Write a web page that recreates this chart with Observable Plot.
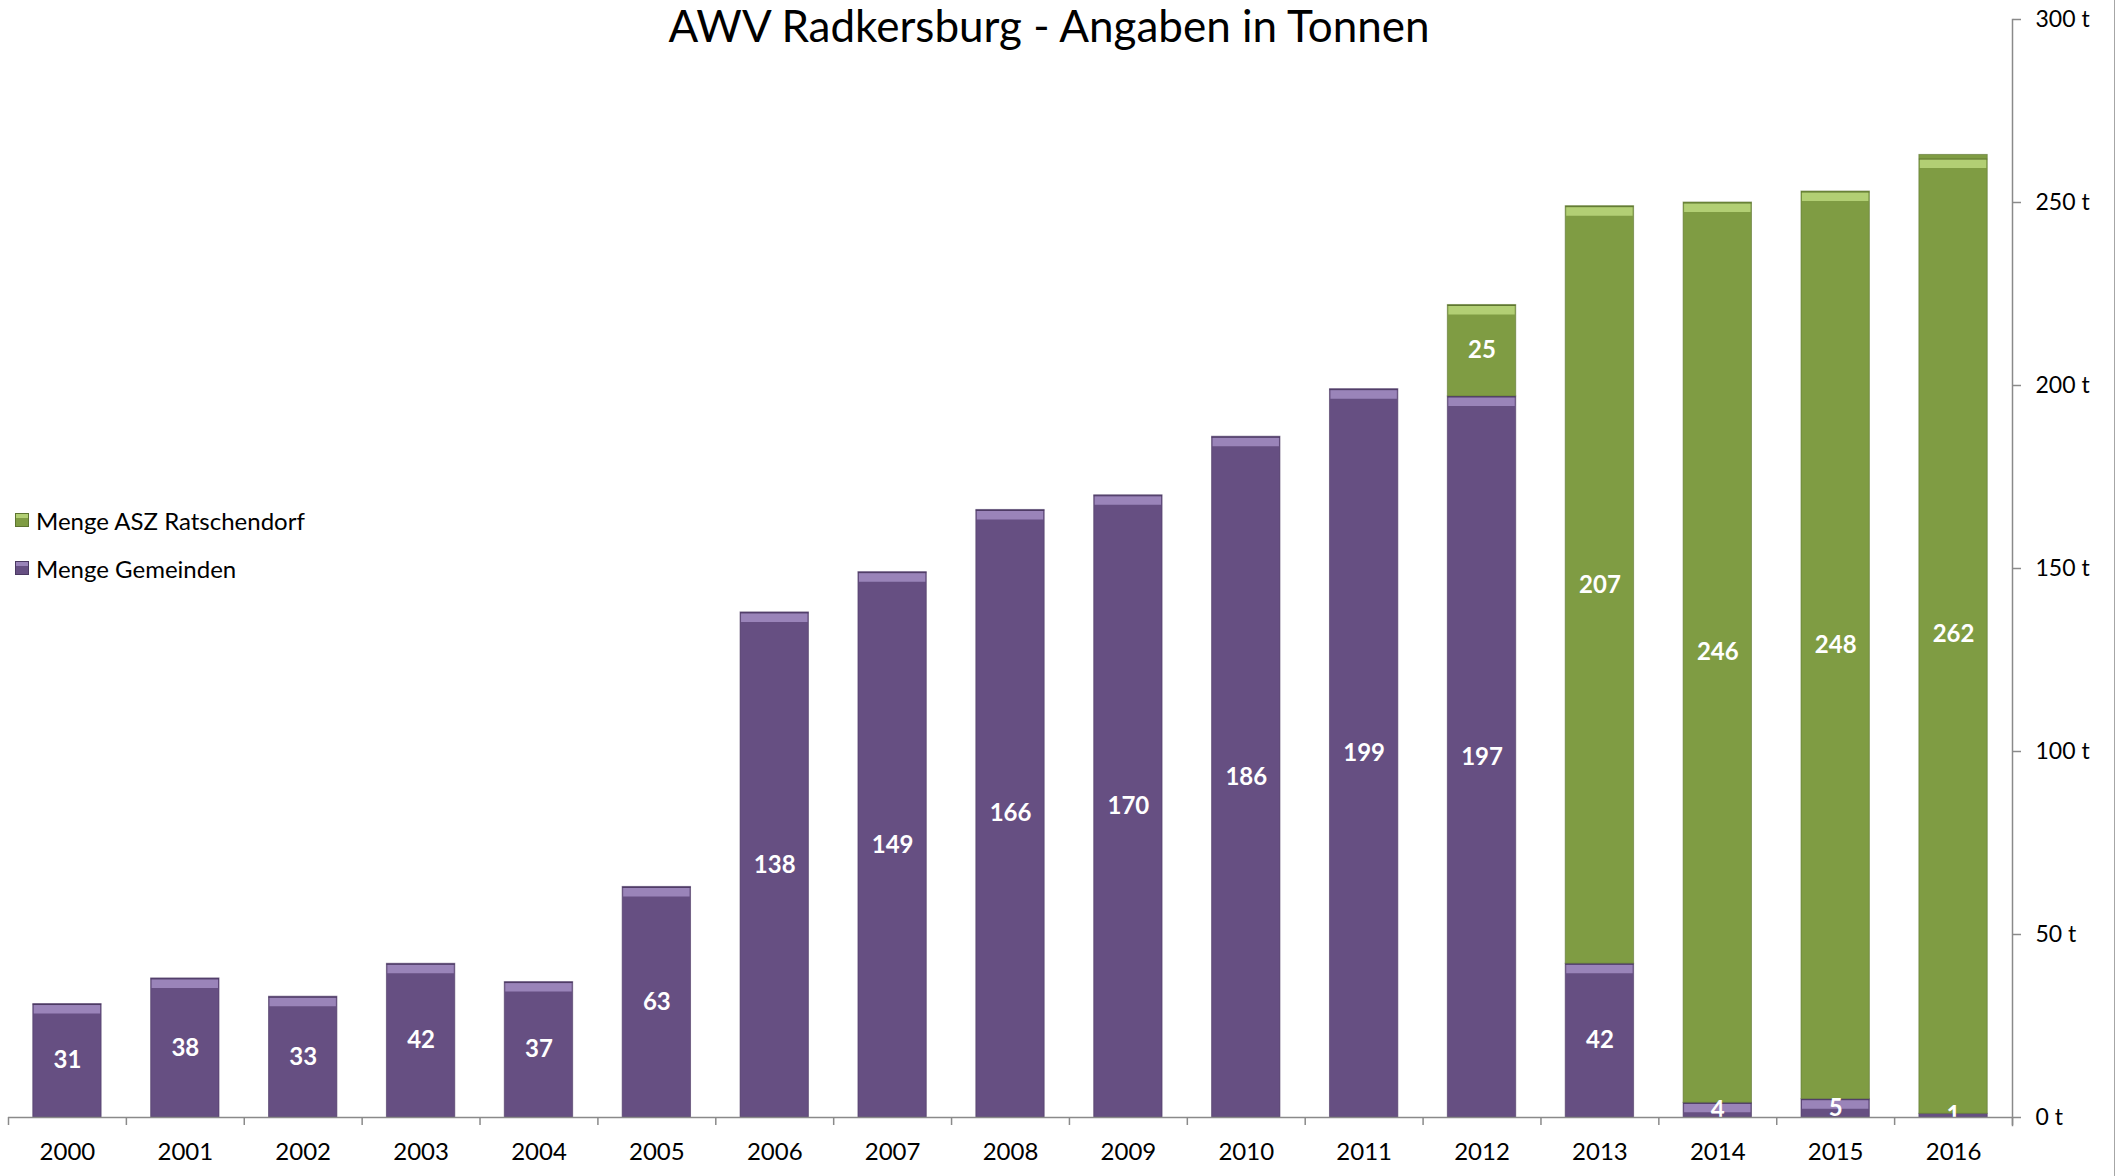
<!DOCTYPE html>
<html>
<head>
<meta charset="utf-8">
<script src="https://cdn.jsdelivr.net/npm/d3@7"></script>
<script src="https://cdn.jsdelivr.net/npm/@observablehq/plot@0.6"></script>
<style>
  html, body { margin: 0; padding: 0; background: #fff; }
  #wrap { position: relative; width: 2117px; height: 1176px; overflow: hidden; font-family: Lato, "Open Sans", sans-serif; }
  #chart { position: absolute; left: 0; top: 0; }
  #title { position: absolute; left: 0; top: 1px; width: 2098px; text-align: center; font-size: 44px; line-height: 48px; color: #000; }
  #legend { position: absolute; left: 15px; top: 496px; font-size: 24px; color: #000; }
  .item { display: flex; align-items: center; height: 48px; }
  .sw { width: 14px; height: 14px; margin-right: 7px; box-sizing: border-box; }
  #edge { position: absolute; left: 2114px; top: 0; width: 1px; height: 1176px; background: #a6a6a6; }
</style>
</head>
<body>
<div id="wrap">
  <div id="chart"></div>
  <div id="title">AWV Radkersburg - Angaben in Tonnen</div>
  <div id="legend"></div>
  <div id="edge"></div>
</div>
<script>
// ---- data ----
const years = ["2000","2001","2002","2003","2004","2005","2006","2007","2008","2009","2010","2011","2012","2013","2014","2015","2016"];
const gemeinden = [31, 38, 33, 42, 37, 63, 138, 149, 166, 170, 186, 199, 197, 42, 4, 5, 1];
const asz = [0, 0, 0, 0, 0, 0, 0, 0, 0, 0, 0, 0, 25, 207, 246, 248, 262];
const seriesNames = ["Menge Gemeinden", "Menge ASZ Ratschendorf"];
const yTicks = [0, 50, 100, 150, 200, 250, 300];

// ---- styles ----
const colors = {"Menge Gemeinden": "#664f82", "Menge ASZ Ratschendorf": "#7f9c43"};
const tops = {"Menge Gemeinden": "#9a84b9", "Menge ASZ Ratschendorf": "#b2cf74"};
const edges = {"Menge Gemeinden": "#4b3962", "Menge ASZ Ratschendorf": "#5d7430"};

const rows = [];
years.forEach((yr, i) => {
  rows.push({year: yr, series: seriesNames[0], value: gemeinden[i]});
  rows.push({year: yr, series: seriesNames[1], value: asz[i]});
});

const W = 2117, H = 1176, ML = 8, MR = 105, MT = 19, MB = 59;
const step = (W - ML - MR) / years.length;
const axisGray = "#8a8a8a";

const stackOpts = {x: "year", y: "value", z: "series", order: seriesNames};

const chart = Plot.plot({
  width: W, height: H,
  marginLeft: ML, marginRight: MR, marginTop: MT, marginBottom: MB,
  style: {fontFamily: "Lato, 'Open Sans', sans-serif", fontSize: "23px", color: "#000", background: "transparent"},
  x: {type: "band", domain: years, paddingInner: 0.42, paddingOuter: 0.21, round: false, axis: null, label: null},
  y: {domain: [0, 300], axis: null, label: null},
  marks: [
    Plot.barY(rows, Plot.stackY({...stackOpts, fill: d => colors[d.series], stroke: d => edges[d.series], strokeWidth: 1, strokeOpacity: 0.6})),
    Plot.tickY(rows.filter(d => d.value >= 4), Plot.stackY2({...stackOpts, stroke: d => tops[d.series], strokeWidth: 9, dy: 5, inset: 1})),
    Plot.tickY(rows.filter(d => d.value >= 4), Plot.stackY2({...stackOpts, stroke: d => edges[d.series], strokeWidth: 1, dy: 0.5})),
    Plot.text(rows.filter(d => d.value > 0), Plot.stackY({...stackOpts, text: d => String(d.value), fill: "white", fontWeight: "bold", fontSize: 24})),
    Plot.ruleY([0], {stroke: axisGray, strokeWidth: 1.5}),
    Plot.frame({anchor: "right", stroke: axisGray, strokeWidth: 1.5, insetBottom: -8}),
    Plot.axisX({tickSize: 8, tickFormat: () => "", dx: -step / 2, stroke: axisGray, strokeWidth: 1.5, label: null}),
    Plot.axisX({ticks: [years[years.length - 1]], tickSize: 8, tickFormat: () => "", dx: step / 2, stroke: axisGray, strokeWidth: 1.5, label: null}),
    Plot.axisX({tickSize: 0, tickPadding: 25, fill: "#000", fontSize: 24, label: null}),
    Plot.axisY({anchor: "right", ticks: yTicks, tickFormat: d => `${d} t`, tickSize: 8, tickPadding: 15, stroke: axisGray, strokeWidth: 1.5, fill: "#000", fontSize: 23, label: null})
  ]
});
document.getElementById("chart").appendChild(chart);

// legend (top series first, as in the original)
const legend = document.getElementById("legend");
[seriesNames[1], seriesNames[0]].forEach(s => {
  const it = document.createElement("div");
  it.className = "item";
  const sw = document.createElement("div");
  sw.className = "sw";
  sw.style.background = `linear-gradient(${tops[s]} 0%, ${tops[s]} 35%, ${colors[s]} 36%, ${colors[s]} 100%)`;
  sw.style.border = `1px solid ${edges[s]}`;
  const t = document.createElement("span");
  t.textContent = s;
  it.appendChild(sw); it.appendChild(t);
  legend.appendChild(it);
});
</script>
</body>
</html>
